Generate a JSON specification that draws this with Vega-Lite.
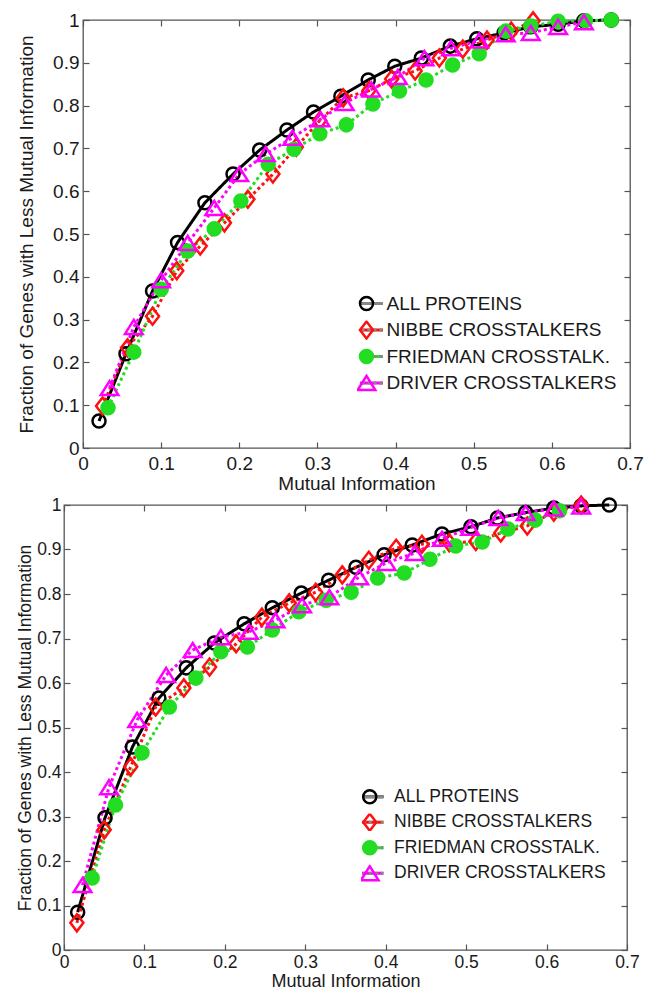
{
  "$schema": "https://vega.github.io/schema/vega-lite/v6.json",
  "padding": {"left": 15, "top": 6, "right": 5, "bottom": 0},
  "background": "white",
  "config": {
    "font": "Liberation Sans",
    "view": {"stroke": "#555555", "strokeWidth": 1.3},
    "axis": {
      "grid": false,
      "domain": false,
      "tickColor": "#555555",
      "tickWidth": 1.2,
      "tickSize": -6,
      "labelFlush": false,
      "labelFont": "Liberation Sans",
      "titleFont": "Liberation Sans",
      "labelColor": "#1a1a1a",
      "titleColor": "#1a1a1a",
      "titleFontWeight": "normal"
    },
    "legend": {"labelFont": "Liberation Sans", "labelColor": "#1a1a1a", "labelLimit": 0}
  },
  "datasets": {
    "top": [
      {"series": "ALL PROTEINS", "mi": 0.0205, "frac": 0.063},
      {"series": "ALL PROTEINS", "mi": 0.055, "frac": 0.22},
      {"series": "ALL PROTEINS", "mi": 0.089, "frac": 0.367},
      {"series": "ALL PROTEINS", "mi": 0.121, "frac": 0.48},
      {"series": "ALL PROTEINS", "mi": 0.156, "frac": 0.573},
      {"series": "ALL PROTEINS", "mi": 0.192, "frac": 0.64},
      {"series": "ALL PROTEINS", "mi": 0.226, "frac": 0.696},
      {"series": "ALL PROTEINS", "mi": 0.261, "frac": 0.743},
      {"series": "ALL PROTEINS", "mi": 0.295, "frac": 0.785},
      {"series": "ALL PROTEINS", "mi": 0.33, "frac": 0.822},
      {"series": "ALL PROTEINS", "mi": 0.365, "frac": 0.86},
      {"series": "ALL PROTEINS", "mi": 0.399, "frac": 0.892},
      {"series": "ALL PROTEINS", "mi": 0.433, "frac": 0.911},
      {"series": "ALL PROTEINS", "mi": 0.47, "frac": 0.939},
      {"series": "ALL PROTEINS", "mi": 0.504, "frac": 0.956},
      {"series": "ALL PROTEINS", "mi": 0.539, "frac": 0.97},
      {"series": "ALL PROTEINS", "mi": 0.573, "frac": 0.984},
      {"series": "ALL PROTEINS", "mi": 0.608, "frac": 0.99},
      {"series": "ALL PROTEINS", "mi": 0.641, "frac": 0.998},
      {"series": "ALL PROTEINS", "mi": 0.676, "frac": 1.0},
      {"series": "NIBBE CROSSTALKERS", "mi": 0.025, "frac": 0.098},
      {"series": "NIBBE CROSSTALKERS", "mi": 0.057, "frac": 0.234},
      {"series": "NIBBE CROSSTALKERS", "mi": 0.089, "frac": 0.308},
      {"series": "NIBBE CROSSTALKERS", "mi": 0.12, "frac": 0.414},
      {"series": "NIBBE CROSSTALKERS", "mi": 0.15, "frac": 0.472},
      {"series": "NIBBE CROSSTALKERS", "mi": 0.181, "frac": 0.526},
      {"series": "NIBBE CROSSTALKERS", "mi": 0.211, "frac": 0.581},
      {"series": "NIBBE CROSSTALKERS", "mi": 0.243, "frac": 0.64},
      {"series": "NIBBE CROSSTALKERS", "mi": 0.273, "frac": 0.703},
      {"series": "NIBBE CROSSTALKERS", "mi": 0.303, "frac": 0.765},
      {"series": "NIBBE CROSSTALKERS", "mi": 0.333, "frac": 0.818},
      {"series": "NIBBE CROSSTALKERS", "mi": 0.366, "frac": 0.835},
      {"series": "NIBBE CROSSTALKERS", "mi": 0.395, "frac": 0.862},
      {"series": "NIBBE CROSSTALKERS", "mi": 0.425, "frac": 0.881},
      {"series": "NIBBE CROSSTALKERS", "mi": 0.456, "frac": 0.911},
      {"series": "NIBBE CROSSTALKERS", "mi": 0.486, "frac": 0.932},
      {"series": "NIBBE CROSSTALKERS", "mi": 0.517, "frac": 0.953},
      {"series": "NIBBE CROSSTALKERS", "mi": 0.548, "frac": 0.974},
      {"series": "NIBBE CROSSTALKERS", "mi": 0.576, "frac": 0.998},
      {"series": "FRIEDMAN CROSSTALK.", "mi": 0.032, "frac": 0.094},
      {"series": "FRIEDMAN CROSSTALK.", "mi": 0.065, "frac": 0.224},
      {"series": "FRIEDMAN CROSSTALK.", "mi": 0.1, "frac": 0.371},
      {"series": "FRIEDMAN CROSSTALK.", "mi": 0.134, "frac": 0.46},
      {"series": "FRIEDMAN CROSSTALK.", "mi": 0.168, "frac": 0.512},
      {"series": "FRIEDMAN CROSSTALK.", "mi": 0.202, "frac": 0.577},
      {"series": "FRIEDMAN CROSSTALK.", "mi": 0.237, "frac": 0.663},
      {"series": "FRIEDMAN CROSSTALK.", "mi": 0.27, "frac": 0.698},
      {"series": "FRIEDMAN CROSSTALK.", "mi": 0.303, "frac": 0.734},
      {"series": "FRIEDMAN CROSSTALK.", "mi": 0.337, "frac": 0.755},
      {"series": "FRIEDMAN CROSSTALK.", "mi": 0.371, "frac": 0.804},
      {"series": "FRIEDMAN CROSSTALK.", "mi": 0.405, "frac": 0.834},
      {"series": "FRIEDMAN CROSSTALK.", "mi": 0.439, "frac": 0.86},
      {"series": "FRIEDMAN CROSSTALK.", "mi": 0.473, "frac": 0.895},
      {"series": "FRIEDMAN CROSSTALK.", "mi": 0.507, "frac": 0.921},
      {"series": "FRIEDMAN CROSSTALK.", "mi": 0.541, "frac": 0.974},
      {"series": "FRIEDMAN CROSSTALK.", "mi": 0.573, "frac": 0.986},
      {"series": "FRIEDMAN CROSSTALK.", "mi": 0.608, "frac": 0.997},
      {"series": "FRIEDMAN CROSSTALK.", "mi": 0.643, "frac": 0.998},
      {"series": "FRIEDMAN CROSSTALK.", "mi": 0.676, "frac": 1.0},
      {"series": "DRIVER CROSSTALKERS", "mi": 0.034, "frac": 0.14},
      {"series": "DRIVER CROSSTALKERS", "mi": 0.065, "frac": 0.283},
      {"series": "DRIVER CROSSTALKERS", "mi": 0.1, "frac": 0.392},
      {"series": "DRIVER CROSSTALKERS", "mi": 0.134, "frac": 0.479},
      {"series": "DRIVER CROSSTALKERS", "mi": 0.168, "frac": 0.561},
      {"series": "DRIVER CROSSTALKERS", "mi": 0.2, "frac": 0.64},
      {"series": "DRIVER CROSSTALKERS", "mi": 0.234, "frac": 0.687},
      {"series": "DRIVER CROSSTALKERS", "mi": 0.268, "frac": 0.725},
      {"series": "DRIVER CROSSTALKERS", "mi": 0.304, "frac": 0.768},
      {"series": "DRIVER CROSSTALKERS", "mi": 0.335, "frac": 0.806},
      {"series": "DRIVER CROSSTALKERS", "mi": 0.369, "frac": 0.838},
      {"series": "DRIVER CROSSTALKERS", "mi": 0.403, "frac": 0.867},
      {"series": "DRIVER CROSSTALKERS", "mi": 0.437, "frac": 0.911},
      {"series": "DRIVER CROSSTALKERS", "mi": 0.471, "frac": 0.934},
      {"series": "DRIVER CROSSTALKERS", "mi": 0.507, "frac": 0.952},
      {"series": "DRIVER CROSSTALKERS", "mi": 0.541, "frac": 0.967},
      {"series": "DRIVER CROSSTALKERS", "mi": 0.573, "frac": 0.97},
      {"series": "DRIVER CROSSTALKERS", "mi": 0.608, "frac": 0.984},
      {"series": "DRIVER CROSSTALKERS", "mi": 0.641, "frac": 0.995}
    ],
    "bottom": [
      {"series": "ALL PROTEINS", "mi": 0.017, "frac": 0.085},
      {"series": "ALL PROTEINS", "mi": 0.051, "frac": 0.297},
      {"series": "ALL PROTEINS", "mi": 0.085, "frac": 0.456},
      {"series": "ALL PROTEINS", "mi": 0.118, "frac": 0.566},
      {"series": "ALL PROTEINS", "mi": 0.152, "frac": 0.634},
      {"series": "ALL PROTEINS", "mi": 0.187, "frac": 0.69},
      {"series": "ALL PROTEINS", "mi": 0.224, "frac": 0.733},
      {"series": "ALL PROTEINS", "mi": 0.259, "frac": 0.769},
      {"series": "ALL PROTEINS", "mi": 0.295, "frac": 0.802},
      {"series": "ALL PROTEINS", "mi": 0.329, "frac": 0.831},
      {"series": "ALL PROTEINS", "mi": 0.363, "frac": 0.86},
      {"series": "ALL PROTEINS", "mi": 0.398, "frac": 0.888},
      {"series": "ALL PROTEINS", "mi": 0.433, "frac": 0.91},
      {"series": "ALL PROTEINS", "mi": 0.47, "frac": 0.935},
      {"series": "ALL PROTEINS", "mi": 0.506, "frac": 0.951},
      {"series": "ALL PROTEINS", "mi": 0.539, "frac": 0.971},
      {"series": "ALL PROTEINS", "mi": 0.574, "frac": 0.983},
      {"series": "ALL PROTEINS", "mi": 0.609, "frac": 0.993},
      {"series": "ALL PROTEINS", "mi": 0.643, "frac": 0.998},
      {"series": "ALL PROTEINS", "mi": 0.678, "frac": 1.0},
      {"series": "NIBBE CROSSTALKERS", "mi": 0.016, "frac": 0.061},
      {"series": "NIBBE CROSSTALKERS", "mi": 0.05, "frac": 0.27},
      {"series": "NIBBE CROSSTALKERS", "mi": 0.083, "frac": 0.412},
      {"series": "NIBBE CROSSTALKERS", "mi": 0.114, "frac": 0.546},
      {"series": "NIBBE CROSSTALKERS", "mi": 0.149, "frac": 0.589},
      {"series": "NIBBE CROSSTALKERS", "mi": 0.181, "frac": 0.636},
      {"series": "NIBBE CROSSTALKERS", "mi": 0.214, "frac": 0.688},
      {"series": "NIBBE CROSSTALKERS", "mi": 0.246, "frac": 0.748},
      {"series": "NIBBE CROSSTALKERS", "mi": 0.28, "frac": 0.78},
      {"series": "NIBBE CROSSTALKERS", "mi": 0.313, "frac": 0.804},
      {"series": "NIBBE CROSSTALKERS", "mi": 0.346, "frac": 0.843},
      {"series": "NIBBE CROSSTALKERS", "mi": 0.379, "frac": 0.876},
      {"series": "NIBBE CROSSTALKERS", "mi": 0.413, "frac": 0.903},
      {"series": "NIBBE CROSSTALKERS", "mi": 0.445, "frac": 0.912},
      {"series": "NIBBE CROSSTALKERS", "mi": 0.479, "frac": 0.915},
      {"series": "NIBBE CROSSTALKERS", "mi": 0.512, "frac": 0.918},
      {"series": "NIBBE CROSSTALKERS", "mi": 0.543, "frac": 0.937},
      {"series": "NIBBE CROSSTALKERS", "mi": 0.576, "frac": 0.953},
      {"series": "NIBBE CROSSTALKERS", "mi": 0.609, "frac": 0.984},
      {"series": "NIBBE CROSSTALKERS", "mi": 0.643, "frac": 1.0},
      {"series": "FRIEDMAN CROSSTALK.", "mi": 0.035, "frac": 0.162},
      {"series": "FRIEDMAN CROSSTALK.", "mi": 0.064, "frac": 0.326},
      {"series": "FRIEDMAN CROSSTALK.", "mi": 0.097, "frac": 0.443},
      {"series": "FRIEDMAN CROSSTALK.", "mi": 0.131, "frac": 0.546},
      {"series": "FRIEDMAN CROSSTALK.", "mi": 0.164, "frac": 0.611},
      {"series": "FRIEDMAN CROSSTALK.", "mi": 0.195, "frac": 0.67},
      {"series": "FRIEDMAN CROSSTALK.", "mi": 0.228, "frac": 0.681},
      {"series": "FRIEDMAN CROSSTALK.", "mi": 0.259, "frac": 0.719},
      {"series": "FRIEDMAN CROSSTALK.", "mi": 0.292, "frac": 0.76},
      {"series": "FRIEDMAN CROSSTALK.", "mi": 0.326, "frac": 0.786},
      {"series": "FRIEDMAN CROSSTALK.", "mi": 0.357, "frac": 0.804},
      {"series": "FRIEDMAN CROSSTALK.", "mi": 0.39, "frac": 0.836},
      {"series": "FRIEDMAN CROSSTALK.", "mi": 0.423, "frac": 0.847},
      {"series": "FRIEDMAN CROSSTALK.", "mi": 0.455, "frac": 0.878},
      {"series": "FRIEDMAN CROSSTALK.", "mi": 0.487, "frac": 0.908},
      {"series": "FRIEDMAN CROSSTALK.", "mi": 0.52, "frac": 0.917},
      {"series": "FRIEDMAN CROSSTALK.", "mi": 0.552, "frac": 0.946},
      {"series": "FRIEDMAN CROSSTALK.", "mi": 0.586, "frac": 0.966},
      {"series": "FRIEDMAN CROSSTALK.", "mi": 0.616, "frac": 0.987},
      {"series": "DRIVER CROSSTALKERS", "mi": 0.023, "frac": 0.146},
      {"series": "DRIVER CROSSTALKERS", "mi": 0.056, "frac": 0.366},
      {"series": "DRIVER CROSSTALKERS", "mi": 0.091, "frac": 0.517},
      {"series": "DRIVER CROSSTALKERS", "mi": 0.127, "frac": 0.618},
      {"series": "DRIVER CROSSTALKERS", "mi": 0.16, "frac": 0.674},
      {"series": "DRIVER CROSSTALKERS", "mi": 0.195, "frac": 0.703},
      {"series": "DRIVER CROSSTALKERS", "mi": 0.23, "frac": 0.715},
      {"series": "DRIVER CROSSTALKERS", "mi": 0.263, "frac": 0.741},
      {"series": "DRIVER CROSSTALKERS", "mi": 0.296, "frac": 0.775},
      {"series": "DRIVER CROSSTALKERS", "mi": 0.33, "frac": 0.793},
      {"series": "DRIVER CROSSTALKERS", "mi": 0.367, "frac": 0.838},
      {"series": "DRIVER CROSSTALKERS", "mi": 0.401, "frac": 0.87},
      {"series": "DRIVER CROSSTALKERS", "mi": 0.436, "frac": 0.892},
      {"series": "DRIVER CROSSTALKERS", "mi": 0.47, "frac": 0.924},
      {"series": "DRIVER CROSSTALKERS", "mi": 0.505, "frac": 0.949},
      {"series": "DRIVER CROSSTALKERS", "mi": 0.54, "frac": 0.971},
      {"series": "DRIVER CROSSTALKERS", "mi": 0.574, "frac": 0.982},
      {"series": "DRIVER CROSSTALKERS", "mi": 0.609, "frac": 0.992},
      {"series": "DRIVER CROSSTALKERS", "mi": 0.643, "frac": 0.997}
    ]
  },
  "columns": 2,
  "align": "none",
  "spacing": {"row": -4, "column": 0},
  "resolve": {
    "scale": {"color": "independent", "strokeDash": "independent", "stroke": "independent", "fill": "independent", "shape": "independent"},
    "legend": {"color": "independent", "strokeDash": "independent", "stroke": "independent", "fill": "independent", "shape": "independent"}
  },
  "concat": [
    {"width": 1, "height": 1, "view": {"stroke": null}, "data": {"values": []}, "mark": "point"},
    {
      "width": 547,
      "height": 428,
      "data": {"name": "top"},
      "layer": [
        {
          "mark": {"type": "line", "strokeWidth": 3},
          "encoding": {
            "x": {"field": "mi", "type": "quantitative", "scale": {"domain": [0, 0.7], "nice": false},
                  "axis": {"orient": "bottom", "values": [0, 0.1, 0.2, 0.3, 0.4, 0.5, 0.6, 0.7], "format": "~g", "title": "Mutual Information",
                           "labelFontSize": 19, "titleFontSize": 19, "labelPadding": 12, "titlePadding": 1}},
            "y": {"field": "frac", "type": "quantitative", "scale": {"domain": [0, 1], "nice": false},
                  "axis": {"orient": "left", "values": [0, 0.1, 0.2, 0.3, 0.4, 0.5, 0.6, 0.7, 0.8, 0.9, 1], "format": "~g",
                           "title": "Fraction of Genes with Less Mutual Information", "labelFontSize": 19, "titleFontSize": 19,
                           "labelPadding": 10, "titlePadding": 16}},
            "color": {"field": "series", "type": "nominal",
                      "sort": ["ALL PROTEINS", "NIBBE CROSSTALKERS", "FRIEDMAN CROSSTALK.", "DRIVER CROSSTALKERS"],
                      "scale": {"range": ["#000000", "#ff1010", "#22dd22", "#ff00ff"]},
                      "legend": {"orient": "none", "legendX": 277, "legendY": 274, "title": null, "padding": 0, "clipHeight": 19,
                                 "symbolType": "M-4,0H4", "symbolSize": 100, "symbolStrokeWidth": 3,
                                 "labelExpr": "''", "labelFontSize": 19, "rowPadding": 6.5}},
            "strokeDash": {"field": "series", "type": "nominal",
                           "sort": ["ALL PROTEINS", "NIBBE CROSSTALKERS", "FRIEDMAN CROSSTALK.", "DRIVER CROSSTALKERS"],
                           "scale": {"range": [[1, 0], [3, 3], [3, 3], [3, 3]]},
                           "legend": {"orient": "none", "legendX": 277, "legendY": 274, "title": null, "padding": 0, "clipHeight": 19,
                                      "symbolType": "M-4,0H4", "symbolSize": 100, "symbolStrokeWidth": 3,
                                      "labelExpr": "''", "labelFontSize": 19, "rowPadding": 6.5}}
          }
        },
        {
          "mark": {"type": "point", "filled": true, "strokeWidth": 2.5, "opacity": 1, "size": 170},
          "encoding": {
            "x": {"field": "mi", "type": "quantitative", "scale": {"domain": [0, 0.7], "nice": false},
                  "axis": {"orient": "top", "values": [0, 0.1, 0.2, 0.3, 0.4, 0.5, 0.6, 0.7], "labels": false, "title": null}},
            "y": {"field": "frac", "type": "quantitative", "scale": {"domain": [0, 1], "nice": false},
                  "axis": {"orient": "right", "values": [0, 0.1, 0.2, 0.3, 0.4, 0.5, 0.6, 0.7, 0.8, 0.9, 1], "labels": false, "title": null}},
            "stroke": {"field": "series", "type": "nominal",
                       "scale": {"domain": ["ALL PROTEINS", "NIBBE CROSSTALKERS", "FRIEDMAN CROSSTALK.", "DRIVER CROSSTALKERS"], "range": ["#000000", "#ff1010", "#22dd22", "#ff00ff"]},
                       "legend": {"orient": "none", "legendX": 274, "legendY": 274, "title": null, "padding": 0, "clipHeight": 19,
                                  "symbolSize": 170, "symbolStrokeWidth": 2.5, "labelFontSize": 19, "labelOffset": 10.5, "rowPadding": 6.5}},
            "fill": {"field": "series", "type": "nominal",
                     "scale": {"domain": ["ALL PROTEINS", "NIBBE CROSSTALKERS", "FRIEDMAN CROSSTALK.", "DRIVER CROSSTALKERS"], "range": ["rgba(0,0,0,0)", "rgba(0,0,0,0)", "#22dd22", "rgba(0,0,0,0)"]},
                     "legend": {"orient": "none", "legendX": 274, "legendY": 274, "title": null, "padding": 0, "clipHeight": 19,
                                "symbolSize": 170, "symbolStrokeWidth": 2.5, "labelFontSize": 19, "labelOffset": 10.5, "rowPadding": 6.5}},
            "shape": {"field": "series", "type": "nominal",
                      "scale": {"domain": ["ALL PROTEINS", "NIBBE CROSSTALKERS", "FRIEDMAN CROSSTALK.", "DRIVER CROSSTALKERS"], "range": ["circle", "M-1,0L0,-1.3L1,0L0,1.3Z", "circle", "M0,-1.08L1.35,1.08L-1.35,1.08Z"]},
                      "legend": {"orient": "none", "legendX": 274, "legendY": 274, "title": null, "padding": 0, "clipHeight": 19,
                                 "symbolSize": 170, "symbolStrokeWidth": 2.5, "labelFontSize": 19, "labelOffset": 10.5, "rowPadding": 6.5}}
          }
        }
      ],
      "resolve": {"axis": {"x": "independent", "y": "independent"}}
    },
    {"width": 1, "height": 1, "view": {"stroke": null}, "data": {"values": []}, "mark": "point"},
    {
      "width": 563,
      "height": 445,
      "data": {"name": "bottom"},
      "layer": [
        {
          "mark": {"type": "line", "strokeWidth": 3},
          "encoding": {
            "x": {"field": "mi", "type": "quantitative", "scale": {"domain": [0, 0.7], "nice": false},
                  "axis": {"orient": "bottom", "values": [0, 0.1, 0.2, 0.3, 0.4, 0.5, 0.6, 0.7], "format": "~g", "title": "Mutual Information",
                           "labelFontSize": 17.5, "titleFontSize": 18, "labelPadding": 9, "titlePadding": 2}},
            "y": {"field": "frac", "type": "quantitative", "scale": {"domain": [0, 1], "nice": false},
                  "axis": {"orient": "left", "values": [0, 0.1, 0.2, 0.3, 0.4, 0.5, 0.6, 0.7, 0.8, 0.9, 1], "format": "~g",
                           "title": "Fraction of Genes with Less Mutual Information", "labelFontSize": 17.5, "titleFontSize": 17.5,
                           "labelPadding": 9, "titlePadding": 2}},
            "color": {"field": "series", "type": "nominal",
                      "sort": ["ALL PROTEINS", "NIBBE CROSSTALKERS", "FRIEDMAN CROSSTALK.", "DRIVER CROSSTALKERS"],
                      "scale": {"range": ["#000000", "#ff1010", "#22dd22", "#ff00ff"]},
                      "legend": {"orient": "none", "legendX": 298, "legendY": 283, "title": null, "padding": 0, "clipHeight": 17.5,
                                 "symbolType": "M-4,0H4", "symbolSize": 100, "symbolStrokeWidth": 3,
                                 "labelExpr": "''", "labelFontSize": 17.5, "rowPadding": 6.5}},
            "strokeDash": {"field": "series", "type": "nominal",
                           "sort": ["ALL PROTEINS", "NIBBE CROSSTALKERS", "FRIEDMAN CROSSTALK.", "DRIVER CROSSTALKERS"],
                           "scale": {"range": [[1, 0], [3, 3], [3, 3], [3, 3]]},
                           "legend": {"orient": "none", "legendX": 298, "legendY": 283, "title": null, "padding": 0, "clipHeight": 17.5,
                                      "symbolType": "M-4,0H4", "symbolSize": 100, "symbolStrokeWidth": 3,
                                      "labelExpr": "''", "labelFontSize": 17.5, "rowPadding": 6.5}}
          }
        },
        {
          "mark": {"type": "point", "filled": true, "strokeWidth": 2.5, "opacity": 1, "size": 170},
          "encoding": {
            "x": {"field": "mi", "type": "quantitative", "scale": {"domain": [0, 0.7], "nice": false},
                  "axis": {"orient": "top", "values": [0, 0.1, 0.2, 0.3, 0.4, 0.5, 0.6, 0.7], "labels": false, "title": null}},
            "y": {"field": "frac", "type": "quantitative", "scale": {"domain": [0, 1], "nice": false},
                  "axis": {"orient": "right", "values": [0, 0.1, 0.2, 0.3, 0.4, 0.5, 0.6, 0.7, 0.8, 0.9, 1], "labels": false, "title": null}},
            "stroke": {"field": "series", "type": "nominal",
                       "scale": {"domain": ["ALL PROTEINS", "NIBBE CROSSTALKERS", "FRIEDMAN CROSSTALK.", "DRIVER CROSSTALKERS"], "range": ["#000000", "#ff1010", "#22dd22", "#ff00ff"]},
                       "legend": {"orient": "none", "legendX": 297, "legendY": 283, "title": null, "padding": 0, "clipHeight": 17.5,
                                  "symbolSize": 170, "symbolStrokeWidth": 2.5, "labelFontSize": 17.5, "labelOffset": 15.5, "rowPadding": 6.5}},
            "fill": {"field": "series", "type": "nominal",
                     "scale": {"domain": ["ALL PROTEINS", "NIBBE CROSSTALKERS", "FRIEDMAN CROSSTALK.", "DRIVER CROSSTALKERS"], "range": ["rgba(0,0,0,0)", "rgba(0,0,0,0)", "#22dd22", "rgba(0,0,0,0)"]},
                     "legend": {"orient": "none", "legendX": 297, "legendY": 283, "title": null, "padding": 0, "clipHeight": 17.5,
                                "symbolSize": 170, "symbolStrokeWidth": 2.5, "labelFontSize": 17.5, "labelOffset": 15.5, "rowPadding": 6.5}},
            "shape": {"field": "series", "type": "nominal",
                      "scale": {"domain": ["ALL PROTEINS", "NIBBE CROSSTALKERS", "FRIEDMAN CROSSTALK.", "DRIVER CROSSTALKERS"], "range": ["circle", "M-1,0L0,-1.3L1,0L0,1.3Z", "circle", "M0,-1.08L1.35,1.08L-1.35,1.08Z"]},
                      "legend": {"orient": "none", "legendX": 297, "legendY": 283, "title": null, "padding": 0, "clipHeight": 17.5,
                                 "symbolSize": 170, "symbolStrokeWidth": 2.5, "labelFontSize": 17.5, "labelOffset": 15.5, "rowPadding": 6.5}}
          }
        }
      ],
      "resolve": {"axis": {"x": "independent", "y": "independent"}}
    }
  ]
}
